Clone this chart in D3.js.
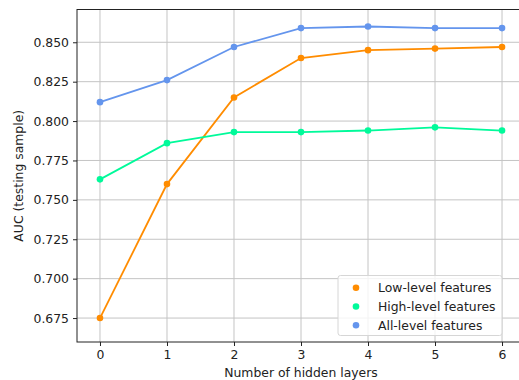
<!DOCTYPE html>
<html>
<head>
<meta charset="utf-8">
<script src="https://cdn.jsdelivr.net/npm/d3@7"></script>
<style>
  body { margin: 0; background: #fff; }
  text { font-family: "DejaVu Sans", sans-serif; fill: #222; }
</style>
</head>
<body>
<div class="d3target"></div>
<script>
'use strict';

// chart data
var layers = [0, 1, 2, 3, 4, 5, 6];
var lowLevel  = [0.675, 0.760, 0.815, 0.840, 0.845, 0.846, 0.847];
var highLevel = [0.763, 0.786, 0.793, 0.793, 0.794, 0.796, 0.794];
var allLevel  = [0.812, 0.826, 0.847, 0.859, 0.860, 0.859, 0.859];
var yTicks = [0.675, 0.700, 0.725, 0.750, 0.775, 0.800, 0.825, 0.850];
var seriesNames = ['Low-level features', 'High-level features', 'All-level features'];
var seriesColors = ['#ff8c00', '#00fa9a', '#6495ed'];

var width = 519, height = 380;
var plotLeft = 77, plotRight = 525, plotTop = 9.5, plotBottom = 342;
var fontSize = 12.4;

var svg = d3.select('.d3target').append('svg')
	.attr('width', width)
	.attr('height', height);

var x = d3.scaleLinear().domain([-0.343, 6.343]).range([plotLeft, plotRight]);
var y = d3.scaleLinear().domain([0.6598, 0.8708]).range([plotBottom, plotTop]);

// grid
svg.append('g').selectAll('line').data(layers).enter().append('line')
	.attr('x1', d => x(d)).attr('x2', d => x(d))
	.attr('y1', plotTop).attr('y2', plotBottom)
	.attr('stroke', '#c4c4c4').attr('stroke-width', 1);
svg.append('g').selectAll('line').data(yTicks).enter().append('line')
	.attr('x1', plotLeft).attr('x2', plotRight)
	.attr('y1', d => y(d)).attr('y2', d => y(d))
	.attr('stroke', '#c4c4c4').attr('stroke-width', 1);

// axes
var xAxis = svg.append('g')
	.attr('transform', 'translate(0,' + plotBottom + ')')
	.call(d3.axisBottom(x).tickValues(layers).tickFormat(d3.format('d')).tickSizeOuter(0).tickSize(4).tickPadding(4));
var yAxis = svg.append('g')
	.attr('transform', 'translate(' + plotLeft + ',0)')
	.call(d3.axisLeft(y).tickValues(yTicks).tickFormat(d3.format('.3f')).tickSizeOuter(0).tickSize(4).tickPadding(4));
[xAxis, yAxis].forEach(function(a) {
	a.select('.domain').remove();
	a.selectAll('text').attr('font-size', fontSize).attr('font-family', '"DejaVu Sans", sans-serif').attr('fill', '#222');
	a.selectAll('line').attr('stroke', '#222');
});

// spines
svg.append('rect')
	.attr('x', plotLeft).attr('y', plotTop)
	.attr('width', plotRight - plotLeft).attr('height', plotBottom - plotTop)
	.attr('fill', 'none').attr('stroke', '#222').attr('stroke-width', 1);

// series
var allSeries = [lowLevel, highLevel, allLevel];
var line = d3.line().x((d, i) => x(layers[i])).y(d => y(d));
allSeries.forEach(function(vals, k) {
	svg.append('path')
		.datum(vals)
		.attr('d', line)
		.attr('fill', 'none')
		.attr('stroke', seriesColors[k])
		.attr('stroke-width', 1.8);
	svg.append('g').selectAll('circle').data(vals).enter().append('circle')
		.attr('cx', (d, i) => x(layers[i]))
		.attr('cy', d => y(d))
		.attr('r', 3.3)
		.attr('fill', seriesColors[k]);
});

// labels
svg.append('text')
	.attr('x', (plotLeft + plotRight) / 2).attr('y', 377)
	.attr('text-anchor', 'middle')
	.attr('font-size', fontSize)
	.text('Number of hidden layers');
svg.append('text')
	.attr('transform', 'translate(23,' + ((plotTop + plotBottom) / 2) + ') rotate(-90)')
	.attr('text-anchor', 'middle')
	.attr('font-size', fontSize)
	.text('AUC (testing sample)');

// legend
var legend = svg.append('g');
legend.append('rect')
	.attr('x', 338).attr('y', 275.5)
	.attr('width', 164).attr('height', 60)
	.attr('rx', 2.5)
	.attr('fill', 'rgba(255,255,255,0.8)')
	.attr('stroke', '#d6d6d6');
seriesNames.forEach(function(name, k) {
	var cy = 287.7 + k * 18.8;
	legend.append('circle').attr('cx', 356).attr('cy', cy).attr('r', 3.3).attr('fill', seriesColors[k]);
	legend.append('text').attr('x', 378).attr('y', cy + 4.4).attr('font-size', fontSize).text(name);
});
</script>
</body>
</html>
